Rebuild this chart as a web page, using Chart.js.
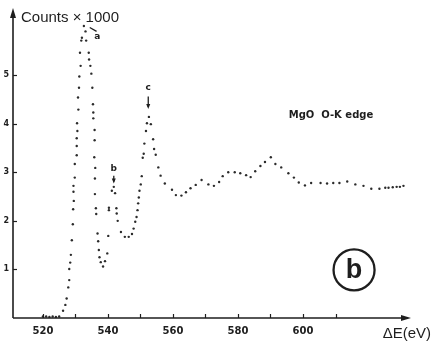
<!DOCTYPE html>
<html>
<head>
<meta charset="utf-8">
<script src="https://cdn.jsdelivr.net/npm/chart.js@4.4.0/dist/chart.umd.min.js"></script>
<style>
  html, body { margin: 0; padding: 0; background: #fff; }
  #wrap { width: 432px; height: 341px; position: relative; }
</style>
</head>
<body>
<div id="wrap"><canvas id="edge"></canvas></div>
<script>
// MgO O-K edge, energy loss (eV) vs counts (x1000)
const energy = [
  520, 521, 522, 523, 524, 525,
  526.2, 526.9, 527.3, 527.8, 528.1, 528.1, 528.4, 528.6, 528.9, 529.2,
  529.3, 529.5, 529.4, 529.4, 529.8, 529.8, 530.4, 530.4, 530.4, 530.6,
  530.5, 530.9, 530.8, 531.1, 531.2, 531.6, 531.4, 531.8, 532.0, 532.6,
  533.1, 533.3, 534.1, 534.2, 534.6, 534.9, 535.2, 535.4, 535.5, 535.5,
  535.9, 535.9, 535.8, 536.1, 536.0, 536.0, 536.3, 536.4, 536.8, 537.0,
  537.2, 537.4, 537.8, 538.5, 539.1, 539.8, 540.1, 540.3, 540.3, 541.2,
  541.8, 542.2, 542.6, 542.7, 543.0, 544.0, 545.2, 546.4, 547.4, 547.9,
  548.4, 548.8, 549.1, 549.3, 549.5, 549.7, 550.1, 550.4, 550.7, 551.0,
  551.2, 551.7, 552.0, 552.6, 553.2, 553.9, 554.2, 554.7, 555.5, 556.2,
  557.5, 559.7, 560.9, 562.6, 564.0, 565.4, 567.0, 568.8, 570.9, 572.6,
  574.2, 575.3, 577.0, 579.0, 580.7, 582.5, 583.9, 585.3, 586.9, 588.3,
  590.1, 591.5, 593.3, 595.5, 597.2, 598.7, 600.6, 602.5, 605.4, 607.4,
  609.3, 611.2, 613.6, 616.1, 618.6, 621.0, 623.5, 625.3, 626.3, 627.6,
  628.8, 629.8, 630.9
];
const counts = [
  0.03, 0.03, 0.02, 0.03, 0.02, 0.03,
  0.15, 0.27, 0.40, 0.63, 0.78, 1.01, 1.14, 1.30, 1.60, 1.93,
  2.24, 2.41, 2.60, 2.72, 2.89, 3.17, 3.35, 3.54, 3.70, 3.85,
  4.01, 4.29, 4.54, 4.74, 4.97, 5.19, 5.46, 5.71, 5.77, 6.01,
  5.90, 5.71, 5.46, 5.32, 5.19, 5.03, 4.74, 4.40, 4.23, 4.11,
  3.87, 3.66, 3.31, 3.09, 2.87, 2.55, 2.26, 2.14, 1.74, 1.58,
  1.40, 1.25, 1.15, 1.06, 1.17, 1.33, 1.69, 2.22, 2.27, 2.62,
  2.70, 2.57, 2.26, 2.15, 2.00, 1.77, 1.67, 1.67, 1.73, 1.84,
  1.98, 2.08, 2.22, 2.36, 2.48, 2.62, 2.75, 2.92, 3.30, 3.38,
  3.59, 3.85, 4.01, 4.14, 3.99, 3.68, 3.48, 3.36, 3.10, 2.93,
  2.77, 2.64, 2.53, 2.52, 2.59, 2.67, 2.74, 2.84, 2.75, 2.72,
  2.80, 2.92, 3.00, 3.00, 2.98, 2.94, 2.90, 3.02, 3.13, 3.21,
  3.31, 3.17, 3.10, 2.98, 2.89, 2.79, 2.73, 2.78, 2.78, 2.77,
  2.78, 2.78, 2.81, 2.75, 2.72, 2.66, 2.66, 2.68, 2.68, 2.69,
  2.70, 2.70, 2.72
];
const xTicks = [520, 530, 540, 550, 560, 570, 580, 590, 600, 610];
const xLabels = [520, 540, 560, 580, 600];
const yTicks = [1, 2, 3, 4, 5];

const ink = "#1e1e1e";

// peak letters, placed in data units
const peakMarks = [
  { text: "a", e: 536.7, v: 5.80, lead: [534.4, 5.98, 536.5, 5.90] },
  { text: "b", e: 541.8, v: 3.08, arrow: [2.93, 2.77] },
  { text: "c", e: 552.4, v: 4.74, arrow: [4.56, 4.30] }
];

function line(ctx, x1, y1, x2, y2) {
  ctx.beginPath();
  ctx.moveTo(x1, y1);
  ctx.lineTo(x2, y2);
  ctx.stroke();
}

const decor = {
  id: "decor",
  afterDraw(chart) {
    const { ctx, chartArea: a, scales: { x, y } } = chart;
    ctx.save();
    ctx.strokeStyle = ink;
    ctx.fillStyle = ink;

    // axes
    ctx.lineWidth = 1.6;
    line(ctx, a.left, a.bottom, a.right - 2, a.bottom);
    line(ctx, a.left, a.bottom, a.left, a.top + 2);
    ctx.beginPath();
    ctx.moveTo(a.right + 2, a.bottom);
    ctx.lineTo(a.right - 8, a.bottom - 3);
    ctx.lineTo(a.right - 8, a.bottom + 3);
    ctx.closePath();
    ctx.fill();
    ctx.beginPath();
    ctx.moveTo(a.left, a.top - 2);
    ctx.lineTo(a.left - 3, a.top + 8);
    ctx.lineTo(a.left + 3, a.top + 8);
    ctx.closePath();
    ctx.fill();

    // tick marks point into the plot
    ctx.lineWidth = 1.2;
    xTicks.forEach(t => {
      const px = Math.round(x.getPixelForValue(t)) + 0.5;
      line(ctx, px, a.bottom, px, a.bottom - 4);
    });
    yTicks.forEach(t => {
      const py = Math.round(y.getPixelForValue(t)) + 0.5;
      line(ctx, a.left, py, a.left + 4, py);
    });

    // axis captions
    ctx.font = "15px 'Liberation Sans', Arial, sans-serif";
    ctx.textBaseline = "middle";
    ctx.textAlign = "left";
    ctx.fillText("Counts \u00d7 1000", a.left + 8, 18);
    ctx.textAlign = "right";
    ctx.fillText("\u0394E(eV)", 431, 334);

    // sample caption
    ctx.font = "bold 10px 'DejaVu Sans', sans-serif";
    ctx.textAlign = "center";
    ctx.fillText("MgO  O-K edge", x.getPixelForValue(608.6), y.getPixelForValue(4.18));

    // peak letters and pointers
    peakMarks.forEach(m => {
      const px = x.getPixelForValue(m.e);
      ctx.font = "bold 9px 'DejaVu Sans', sans-serif";
      ctx.textAlign = "center";
      ctx.fillText(m.text, px, y.getPixelForValue(m.v));
      ctx.lineWidth = 1.3;
      if (m.lead) {
        line(ctx, x.getPixelForValue(m.lead[0]), y.getPixelForValue(m.lead[1]),
          x.getPixelForValue(m.lead[2]), y.getPixelForValue(m.lead[3]));
      }
      if (m.arrow) {
        const y1 = y.getPixelForValue(m.arrow[0]);
        const y2 = y.getPixelForValue(m.arrow[1]);
        line(ctx, px, y1, px, y2 - 2);
        ctx.beginPath();
        ctx.moveTo(px, y2);
        ctx.lineTo(px - 2, y2 - 5);
        ctx.lineTo(px + 2, y2 - 5);
        ctx.closePath();
        ctx.fill();
      }
    });

    // panel tag
    const cx = x.getPixelForValue(615.7);
    const cy = y.getPixelForValue(0.99);
    ctx.lineWidth = 2.3;
    ctx.beginPath();
    ctx.arc(cx, cy, 20.5, 0, Math.PI * 2);
    ctx.stroke();
    ctx.font = "bold 27px 'Liberation Sans', Arial, sans-serif";
    ctx.textAlign = "center";
    ctx.fillText("b", cx, cy + 1);

    ctx.restore();
  }
};

new Chart(document.getElementById("edge"), {
  type: "scatter",
  data: {
    datasets: [{
      data: energy.map((e, i) => ({ x: e, y: counts[i] })),
      pointRadius: 1.2,
      pointBorderWidth: 0,
      pointBackgroundColor: "#2b2b2b",
      showLine: false
    }]
  },
  options: {
    responsive: true,
    maintainAspectRatio: false,
    animation: false,
    layout: { padding: { top: 10, right: 23, left: 0, bottom: 0 } },
    plugins: { legend: { display: false }, tooltip: { enabled: false } },
    scales: {
      x: {
        type: "linear",
        min: 510.8,
        max: 632.6,
        grid: { display: false, drawTicks: false },
        border: { display: false },
        afterFit(s) { s.height = 23; },
        afterBuildTicks(s) { s.ticks = xTicks.map(v => ({ value: v })); },
        ticks: {
          autoSkip: false,
          maxRotation: 0,
          padding: 7,
          color: ink,
          font: { family: "'DejaVu Sans', sans-serif", size: 10, weight: "bold" },
          callback: v => (xLabels.includes(v) ? String(v) : "")
        }
      },
      y: {
        min: 0,
        max: 6.34,
        grid: { display: false, drawTicks: false },
        border: { display: false },
        afterFit(s) { s.width = 13; },
        afterBuildTicks(s) { s.ticks = yTicks.map(v => ({ value: v })); },
        ticks: {
          padding: 4,
          color: ink,
          font: { family: "'DejaVu Sans', sans-serif", size: 8, weight: "bold" }
        }
      }
    }
  },
  plugins: [decor]
});
</script>
</body>
</html>
